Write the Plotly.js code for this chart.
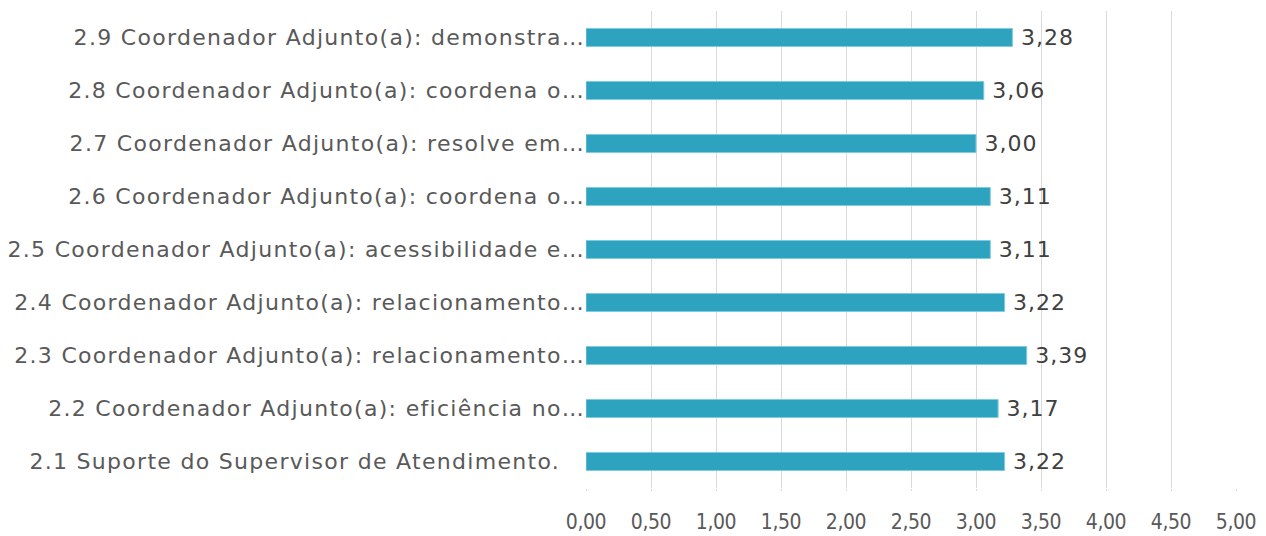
<!DOCTYPE html>
<html>
<head>
<meta charset="utf-8">
<script src="https://cdn.plot.ly/plotly-3.0.1.min.js"></script>
<style>
html,body{margin:0;padding:0;background:#fff;}
#chart{width:1266px;height:536px;}
#chart .ytick text{letter-spacing:1.3px;}
#chart .xtick text{letter-spacing:-0.4px;}
#chart .barlayer text{letter-spacing:1px;}
</style>
</head>
<body>
<div id="chart"></div>
<script>
const categories = [
  "2.1 Suporte do Supervisor de Atendimento.\u00a0\u00a0\u00a0",
  "2.2 Coordenador Adjunto(a): eficiência no…",
  "2.3 Coordenador Adjunto(a): relacionamento…",
  "2.4 Coordenador Adjunto(a): relacionamento…",
  "2.5 Coordenador Adjunto(a): acessibilidade e…",
  "2.6 Coordenador Adjunto(a): coordena o…",
  "2.7 Coordenador Adjunto(a): resolve em…",
  "2.8 Coordenador Adjunto(a): coordena o…",
  "2.9 Coordenador Adjunto(a): demonstra…"
];
const values = [3.22, 3.17, 3.39, 3.22, 3.11, 3.11, 3.00, 3.06, 3.28];
const tickValues = [0, 0.5, 1, 1.5, 2, 2.5, 3, 3.5, 4, 4.5, 5];

Plotly.newPlot('chart', [{
  type: 'bar',
  orientation: 'h',
  y: categories,
  x: values,
  width: 0.34,
  marker: {color: '#2EA3C0', line: {color: '#7fcbe0', width: 1}},
  texttemplate: '\u00a0%{x:.2f}',
  textposition: 'outside',
  constraintext: 'none',
  cliponaxis: false,
  textfont: {family: 'DejaVu Sans', size: 22, color: '#404040'},
  hoverinfo: 'none'
}], {
  width: 1266, height: 536,
  margin: {l: 586, r: 30, t: 11, b: 48, pad: 0},
  separators: ',.',
  paper_bgcolor: '#ffffff',
  plot_bgcolor: '#ffffff',
  showlegend: false,
  xaxis: {
    range: [0, 5],
    tickvals: tickValues,
    tickformat: '.2f',
    showgrid: true,
    gridcolor: '#d9d9d9',
    gridwidth: 1,
    zeroline: false,
    showline: false,
    ticks: 'outside',
    ticklen: 2,
    tickcolor: '#d9d9d9',
    ticklabelstandoff: 13,
    tickfont: {family: 'DejaVu Sans Condensed', size: 21, color: '#595959'},
    fixedrange: true
  },
  yaxis: {
    type: 'category',
    showgrid: false,
    zeroline: false,
    showline: false,
    ticks: '',
    tickfont: {family: 'DejaVu Sans', size: 22, color: '#595959'},
    automargin: false,
    fixedrange: true
  }
}, {displayModeBar: false, staticPlot: true});
</script>
</body>
</html>
